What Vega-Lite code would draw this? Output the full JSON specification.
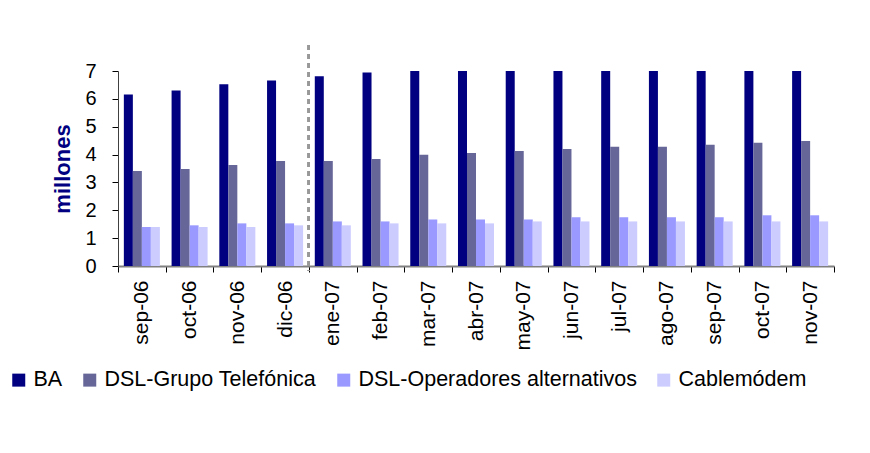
{
  "$schema": "https://vega.github.io/schema/vega-lite/v6.json",
  "width": 716,
  "height": 195,
  "autosize": {"type": "none"},
  "padding": {"left": 118, "top": 71, "right": 36, "bottom": 187},
  "background": "white",
  "config": {
    "font": "Liberation Sans",
    "view": {"stroke": null},
    "axis": {"grid": false},
    "axisX": {
      "labelAngle": -90,
      "labelFontSize": 21,
      "labelColor": "#000000",
      "labelPadding": 8,
      "tickBand": "extent",
      "tickSize": 6,
      "tickColor": "#000000",
      "domainColor": "#808080",
      "domainWidth": 2
    },
    "axisY": {
      "labelOverlap": false,
      "titleFontSize": 22,
      "titleFontWeight": "bold",
      "titleColor": "#000080",
      "titlePadding": 10,
      "labelFontSize": 20,
      "labelColor": "#000000",
      "labelPadding": 16,
      "tickSize": 6,
      "tickColor": "#000000",
      "domainColor": "#404040"
    }
  },
  "data": {
    "values": [
      {"mes": "sep-06", "serie": "BA", "valor": 6.16},
      {"mes": "oct-06", "serie": "BA", "valor": 6.30},
      {"mes": "nov-06", "serie": "BA", "valor": 6.52},
      {"mes": "dic-06", "serie": "BA", "valor": 6.66},
      {"mes": "ene-07", "serie": "BA", "valor": 6.81},
      {"mes": "feb-07", "serie": "BA", "valor": 6.95},
      {"mes": "mar-07", "serie": "BA", "valor": 7.1},
      {"mes": "abr-07", "serie": "BA", "valor": 7.25},
      {"mes": "may-07", "serie": "BA", "valor": 7.4},
      {"mes": "jun-07", "serie": "BA", "valor": 7.5},
      {"mes": "jul-07", "serie": "BA", "valor": 7.6},
      {"mes": "ago-07", "serie": "BA", "valor": 7.7},
      {"mes": "sep-07", "serie": "BA", "valor": 7.8},
      {"mes": "oct-07", "serie": "BA", "valor": 7.9},
      {"mes": "nov-07", "serie": "BA", "valor": 8.0},
      {"mes": "sep-06", "serie": "DSL-Grupo Telefónica", "valor": 3.41},
      {"mes": "oct-06", "serie": "DSL-Grupo Telefónica", "valor": 3.48},
      {"mes": "nov-06", "serie": "DSL-Grupo Telefónica", "valor": 3.63},
      {"mes": "dic-06", "serie": "DSL-Grupo Telefónica", "valor": 3.77},
      {"mes": "ene-07", "serie": "DSL-Grupo Telefónica", "valor": 3.77},
      {"mes": "feb-07", "serie": "DSL-Grupo Telefónica", "valor": 3.84},
      {"mes": "mar-07", "serie": "DSL-Grupo Telefónica", "valor": 3.99},
      {"mes": "abr-07", "serie": "DSL-Grupo Telefónica", "valor": 4.06},
      {"mes": "may-07", "serie": "DSL-Grupo Telefónica", "valor": 4.13},
      {"mes": "jun-07", "serie": "DSL-Grupo Telefónica", "valor": 4.20},
      {"mes": "jul-07", "serie": "DSL-Grupo Telefónica", "valor": 4.28},
      {"mes": "ago-07", "serie": "DSL-Grupo Telefónica", "valor": 4.28},
      {"mes": "sep-07", "serie": "DSL-Grupo Telefónica", "valor": 4.35},
      {"mes": "oct-07", "serie": "DSL-Grupo Telefónica", "valor": 4.42},
      {"mes": "nov-07", "serie": "DSL-Grupo Telefónica", "valor": 4.49},
      {"mes": "sep-06", "serie": "DSL-Operadores alternativos", "valor": 1.40},
      {"mes": "oct-06", "serie": "DSL-Operadores alternativos", "valor": 1.46},
      {"mes": "nov-06", "serie": "DSL-Operadores alternativos", "valor": 1.53},
      {"mes": "dic-06", "serie": "DSL-Operadores alternativos", "valor": 1.53},
      {"mes": "ene-07", "serie": "DSL-Operadores alternativos", "valor": 1.60},
      {"mes": "feb-07", "serie": "DSL-Operadores alternativos", "valor": 1.60},
      {"mes": "mar-07", "serie": "DSL-Operadores alternativos", "valor": 1.67},
      {"mes": "abr-07", "serie": "DSL-Operadores alternativos", "valor": 1.67},
      {"mes": "may-07", "serie": "DSL-Operadores alternativos", "valor": 1.67},
      {"mes": "jun-07", "serie": "DSL-Operadores alternativos", "valor": 1.75},
      {"mes": "jul-07", "serie": "DSL-Operadores alternativos", "valor": 1.75},
      {"mes": "ago-07", "serie": "DSL-Operadores alternativos", "valor": 1.75},
      {"mes": "sep-07", "serie": "DSL-Operadores alternativos", "valor": 1.75},
      {"mes": "oct-07", "serie": "DSL-Operadores alternativos", "valor": 1.82},
      {"mes": "nov-07", "serie": "DSL-Operadores alternativos", "valor": 1.82},
      {"mes": "sep-06", "serie": "Cablemódem", "valor": 1.40},
      {"mes": "oct-06", "serie": "Cablemódem", "valor": 1.40},
      {"mes": "nov-06", "serie": "Cablemódem", "valor": 1.40},
      {"mes": "dic-06", "serie": "Cablemódem", "valor": 1.46},
      {"mes": "ene-07", "serie": "Cablemódem", "valor": 1.46},
      {"mes": "feb-07", "serie": "Cablemódem", "valor": 1.53},
      {"mes": "mar-07", "serie": "Cablemódem", "valor": 1.53},
      {"mes": "abr-07", "serie": "Cablemódem", "valor": 1.53},
      {"mes": "may-07", "serie": "Cablemódem", "valor": 1.60},
      {"mes": "jun-07", "serie": "Cablemódem", "valor": 1.60},
      {"mes": "jul-07", "serie": "Cablemódem", "valor": 1.60},
      {"mes": "ago-07", "serie": "Cablemódem", "valor": 1.60},
      {"mes": "sep-07", "serie": "Cablemódem", "valor": 1.60},
      {"mes": "oct-07", "serie": "Cablemódem", "valor": 1.60},
      {"mes": "nov-07", "serie": "Cablemódem", "valor": 1.60}
    ]
  },
  "layer": [
    {
      "mark": {"type": "bar", "clip": true},
      "encoding": {
        "x": {
          "field": "mes",
          "type": "nominal",
          "sort": null,
          "scale": {"paddingInner": 0, "paddingOuter": 0},
          "axis": {"title": null}
        },
        "xOffset": {
          "field": "serie",
          "type": "nominal",
          "sort": ["BA", "DSL-Grupo Telefónica", "DSL-Operadores alternativos", "Cablemódem"],
          "scale": {"paddingInner": 0, "paddingOuter": 0.65}
        },
        "y": {
          "field": "valor",
          "type": "quantitative",
          "scale": {"domain": [0, 7], "nice": false},
          "axis": {"values": [0, 1, 2, 3, 4, 5, 6, 7], "title": "millones"}
        },
        "color": {
          "field": "serie",
          "type": "nominal",
          "scale": {
            "domain": ["BA", "DSL-Grupo Telefónica", "DSL-Operadores alternativos", "Cablemódem"],
            "range": ["#000080", "#666699", "#9999ff", "#ccccff"]
          },
          "legend": {
            "title": null,
            "orient": "none",
            "direction": "horizontal",
            "legendX": -110,
            "legendY": 298,
            "padding": 0,
            "symbolType": "square",
            "symbolSize": 169,
            "symbolStrokeWidth": 0,
            "labelFontSize": 21.5,
            "labelColor": "#000000",
            "labelLimit": 0,
            "labelOffset": 4,
            "columnPadding": 16
          }
        }
      }
    },
    {
      "mark": {"type": "rule", "color": "#999999", "strokeWidth": 2, "strokeDash": [5, 4]},
      "encoding": {
        "x": {"datum": "ene-07", "type": "nominal", "bandPosition": 0, "axis": {"title": null}},
        "y": {"datum": 7.93, "type": "quantitative", "axis": {"values": [0, 1, 2, 3, 4, 5, 6, 7], "title": "millones"}},
        "y2": {"datum": -0.15}
      }
    }
  ]
}
